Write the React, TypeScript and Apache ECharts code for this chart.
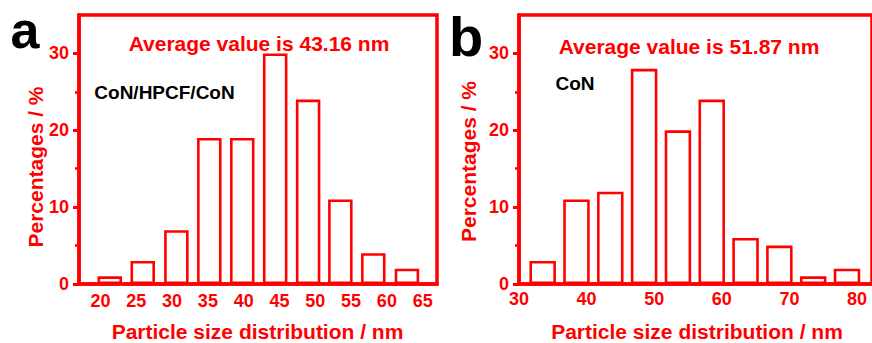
import React, { useEffect, useRef } from "react";
import * as echarts from "echarts";

// Panel a: CoN/HPCF/CoN
const binCentersA = [21.3, 25.9, 30.6, 35.2, 39.8, 44.4, 49.0, 53.5, 58.1, 62.8];
const percentA = [1, 3, 7, 19, 19, 30, 24, 11, 4, 2];
const xTicksA = [20, 25, 30, 35, 40, 45, 50, 55, 60, 65];

// Panel b: CoN
const binCentersB = [33.5, 38.5, 43.5, 48.5, 53.5, 58.5, 63.5, 68.5, 73.5, 78.5];
const percentB = [3, 11, 12, 28, 20, 24, 6, 5, 1, 2];
const xTicksB = [30, 40, 50, 60, 70, 80];

const yMajor = [0, 10, 20, 30];
const yMinor = [5, 15, 25];

const RED = "#ff0000";
const FONT = '"Liberation Sans", Arial, sans-serif';

export default function App() {
  const ref = useRef<HTMLDivElement>(null);
  useEffect(() => {
    if (!ref.current) return;
    const chart = echarts.init(ref.current, null, { renderer: "svg" });

    const gridBase = {
      top: 15,
      width: 358,
      height: 269,
      show: true,
      borderColor: RED,
      borderWidth: 3.5,
      backgroundColor: "transparent",
      containLabel: false,
    };

    const xAxis = (gridIndex: number, min: number, max: number, ticks: number[], margin: number) => ({
      type: "value",
      gridIndex,
      min,
      max,
      z: 5,
      axisLine: { show: true, onZero: false, lineStyle: { color: RED, width: 3.5 } },
      axisTick: { show: false },
      splitLine: { show: false },
      axisLabel: {
        customValues: ticks,
        color: RED,
        fontWeight: "bold",
        fontSize: 18,
        fontFamily: FONT,
        margin,
      },
    });

    const yMain = (gridIndex: number) => ({
      type: "value",
      gridIndex,
      min: 0,
      max: 35,
      position: "left",
      z: 5,
      axisLine: { show: true, lineStyle: { color: RED, width: 3.5 } },
      axisTick: { show: true, customValues: yMajor, length: 6, lineStyle: { color: RED, width: 3 } },
      splitLine: { show: false },
      axisLabel: {
        customValues: yMajor,
        color: RED,
        fontWeight: "bold",
        fontSize: 18,
        fontFamily: FONT,
        margin: 10,
      },
    });

    const yMinorAxis = (gridIndex: number) => ({
      type: "value",
      gridIndex,
      min: 0,
      max: 35,
      position: "left",
      offset: 0,
      z: 5,
      axisLine: { show: false },
      axisTick: { show: true, customValues: yMinor, length: 4, lineStyle: { color: RED, width: 2.5 } },
      splitLine: { show: false },
      axisLabel: { show: false },
    });

    const text = (
      t: string,
      x: number,
      y: number,
      size: number,
      color: string,
      rotation = 0
    ) => ({
      type: "text",
      x,
      y,
      rotation,
      z: 10,
      style: {
        text: t,
        fill: color,
        fontSize: size,
        fontWeight: "bold",
        fontFamily: FONT,
        align: "center",
        verticalAlign: "middle",
      },
    });

    chart.setOption({
      animation: false,
      backgroundColor: "#ffffff",
      grid: [
        { ...gridBase, left: 79 },
        { ...gridBase, left: 519 },
      ],
      xAxis: [
        xAxis(0, 17, 67, xTicksA, 8),
        xAxis(1, 30, 82.2, xTicksB, 6),
      ],
      yAxis: [yMain(0), yMinorAxis(0), yMain(1), yMinorAxis(1)],
      series: [
        {
          type: "bar",
          xAxisIndex: 0,
          yAxisIndex: 0,
          barWidth: 24.5,
          data: binCentersA.map((x, i) => [x, percentA[i]]),
          itemStyle: { color: "#ffffff", borderColor: RED, borderWidth: 2.6 },
        },
        {
          type: "bar",
          xAxisIndex: 1,
          yAxisIndex: 2,
          barWidth: 26.5,
          data: binCentersB.map((x, i) => [x, percentB[i]]),
          itemStyle: { color: "#ffffff", borderColor: RED, borderWidth: 2.6 },
        },
      ],
      graphic: [
        text("a", 25, 30, 52, "#000000"),
        text("b", 466, 36, 56, "#000000"),
        text("Average value is 43.16 nm", 259, 43, 21, RED),
        text("Average value is 51.87 nm", 689, 46.5, 21, RED),
        text("CoN/HPCF/CoN", 164.5, 92, 19, "#000000"),
        text("CoN", 575, 83.5, 19, "#000000"),
        text("Percentages / %", 35.8, 167, 21, RED, Math.PI / 2),
        text("Percentages / %", 468.5, 161.5, 21, RED, Math.PI / 2),
        text("Particle size distribution / nm", 257.5, 331.5, 21, RED),
        text("Particle size distribution / nm", 697, 331.5, 21, RED),
      ],
    });

    return () => chart.dispose();
  }, []);

  return (
    <div
      ref={ref}
      style={{ position: "fixed", left: 0, top: 0, width: 872, height: 343, background: "#fff" }}
    />
  );
}
